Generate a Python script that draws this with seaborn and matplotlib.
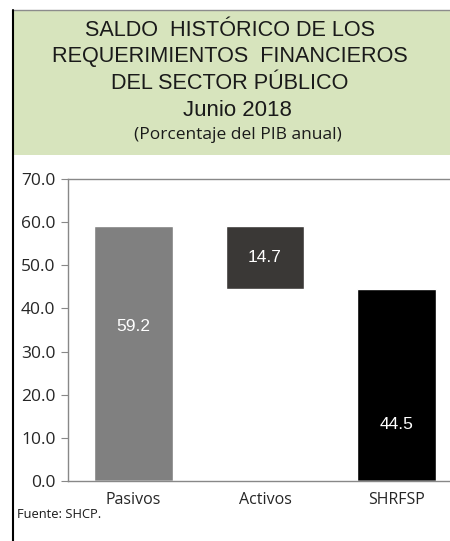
import pandas as pd
import seaborn as sns
import matplotlib.pyplot as plt
from matplotlib.patches import Rectangle
from matplotlib.lines import Line2D

categorias = ["Pasivos", "Activos", "SHRFSP"]
valores = [59.2, 14.7, 44.5]
base = [0.0, 44.5, 0.0]
colores = ["#808080", "#3a3836", "#000000"]
etiqueta_y = [35.7, 51.8, 13.2]  # posición de las etiquetas en la gráfica original

datos = pd.DataFrame({"Concepto": categorias, "Valor": valores, "Base": base})
datos["Tope"] = datos["Base"] + datos["Valor"]

sns.set_style("white")
plt.rcParams["font.family"] = ["Liberation Sans", "DejaVu Sans"]

W, H = 450, 541
fig = plt.figure(figsize=(4.5, 5.41), dpi=100)

# encabezado verde
fig.patches.append(Rectangle((13 / W, 1 - 155 / H), 1, 145 / H, transform=fig.transFigure,
                             facecolor="#d7e4bd", edgecolor="none", zorder=0))
fig.lines.append(Line2D([13 / W, 1], [1 - 10 / H, 1 - 10 / H], transform=fig.transFigure,
                        color="#8c8c8c", lw=1))
fig.lines.append(Line2D([13 / W, 13 / W], [1 - 10 / H, 0], transform=fig.transFigure,
                        color="black", lw=1.5))

titulo = ["SALDO  HISTÓRICO DE LOS", "REQUERIMIENTOS  FINANCIEROS", "DEL SECTOR PÚBLICO"]
centros = [30, 56.8, 83.5]
for linea, yc in zip(titulo, centros):
    fig.text(230 / W, 1 - yc / H, linea, ha="center", va="center",
             fontsize=15.6, color="#1a1a1a")
fig.text(237 / W, 1 - 110 / H, "Junio 2018", ha="center", va="center", fontsize=16,
         color="#1a1a1a")
fig.text(238 / W, 1 - 135 / H, "(Porcentaje del PIB anual)", ha="center", va="center",
         fontsize=12.5, color="#1a1a1a", family=["Open Sans", "DejaVu Sans"])

ax = fig.add_axes([68 / W, 60 / H, 394 / W, 302 / H])
sns.barplot(data=datos, x="Concepto", y="Tope", hue="Concepto", palette=colores,
            width=0.6, saturation=1, legend=False, ax=ax)
sns.barplot(data=datos, x="Concepto", y="Base", color="white", width=0.6,
            saturation=1, ax=ax)

for i, v in enumerate(valores):
    ax.text(i, etiqueta_y[i], f"{v:.1f}", ha="center", va="center", color="white",
            fontsize=12.5)

ax.set_ylim(0, 70)
ax.set_xlim(-0.5, 2.5)
ax.set_yticks(range(0, 71, 10))
ax.set_yticklabels([f"{t:.1f}" for t in range(0, 71, 10)],
                   family=["Open Sans", "DejaVu Sans"], fontsize=12.5)
ax.set_xticks(range(3))
ax.set_xticklabels(categorias, family=["Open Sans", "DejaVu Sans"], fontsize=11.5)
ax.set_xticks([-0.5, 0.5, 1.5, 2.5], minor=True)
ax.tick_params(axis="x", which="major", length=0, pad=8)
ax.tick_params(axis="x", which="minor", length=4, color="#888888", direction="out")
ax.tick_params(axis="y", length=5, color="#888888", direction="out", pad=4, left=True)
ax.set_xlabel("")
ax.set_ylabel("")
for lado in ["left", "bottom", "top"]:
    ax.spines[lado].set_color("#888888")
    ax.spines[lado].set_linewidth(1)
ax.spines["right"].set_visible(False)

fig.text(17 / W, 1 - 514 / H, "Fuente: SHCP.", ha="left", va="center", fontsize=9.3,
         family=["Open Sans", "DejaVu Sans"], color="#1a1a1a")

fig.savefig("out.png", dpi=100)
